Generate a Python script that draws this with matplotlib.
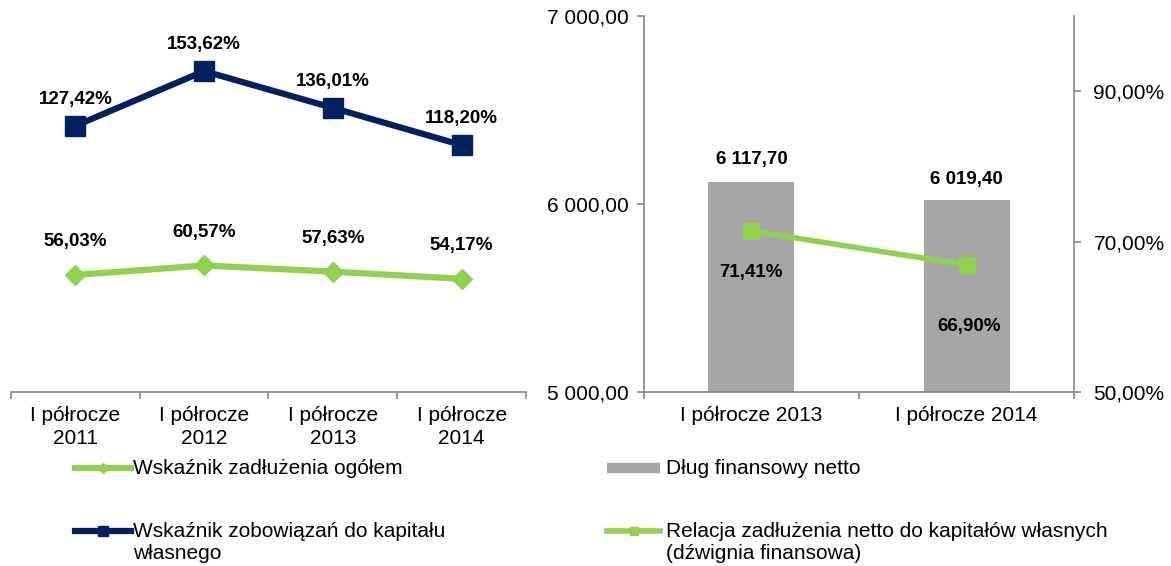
import matplotlib
matplotlib.use('Agg')
import matplotlib.pyplot as plt
from matplotlib.lines import Line2D

plt.rcParams['font.family'] = ['Liberation Sans', 'DejaVu Sans']

# ---------------- data ----------------
left_categories = ['I półrocze\n2011', 'I półrocze\n2012', 'I półrocze\n2013', 'I półrocze\n2014']
zadluzenie_ogolem = [56.03, 60.57, 57.63, 54.17]
zobowiazania_do_kapitalu = [127.42, 153.62, 136.01, 118.20]

right_categories = ['I półrocze 2013', 'I półrocze 2014']
dlug_netto = [6117.70, 6019.40]
dzwignia = [71.41, 66.90]

left_legend_labels = ['Wskaźnik zadłużenia ogółem',
                      'Wskaźnik zobowiązań do kapitału\nwłasnego']
right_legend_labels = ['Dług finansowy netto',
                       'Relacja zadłużenia netto do kapitałów własnych\n(dźwignia finansowa)']

left_yticks = [5000, 6000, 7000]
right_yticks = [50, 70, 90]

# ---------------- style ----------------
NAVY = '#002060'
GREEN = '#92D050'
BARGRAY = '#A6A6A6'
AXGRAY = '#868686'
FS = 15
LFS = 13.5


def pl_num(v, dec=2):
    s = f'{v:,.{dec}f}'
    return s.replace(',', ' ').replace('.', ',')


W, H = 1171, 566
fig = plt.figure(figsize=(W / 100, H / 100), dpi=100)


def px_axes(x0, y0, x1, y1):
    return fig.add_axes([x0 / W, 1 - y1 / H, (x1 - x0) / W, (y1 - y0) / H])


# ---------------- left chart ----------------
ax1 = px_axes(11, 16, 526, 392)
xl = list(range(len(left_categories)))
h_blue, = ax1.plot(xl, zobowiazania_do_kapitalu, color=NAVY, lw=4.5, marker='s', ms=14,
                   solid_joinstyle='miter')
h_green, = ax1.plot(xl, zadluzenie_ogolem, color=GREEN, lw=4.5, marker='D', ms=10.5)
ax1.set_xlim(-0.5, len(left_categories) - 0.5)
ax1.set_ylim(0, 180)
ax1.set_yticks([])
for s in ['left', 'top', 'right']:
    ax1.spines[s].set_visible(False)
ax1.spines['bottom'].set_color(AXGRAY)
ax1.spines['bottom'].set_linewidth(1.2)
ax1.set_xticks([i - 0.5 for i in range(len(left_categories) + 1)])
ax1.set_xticklabels([])
ax1.set_xticks(xl, minor=True)
ax1.set_xticklabels(left_categories, minor=True, fontsize=FS, linespacing=1.25)
ax1.tick_params(axis='x', which='major', length=5, color=AXGRAY, width=1.2, direction='out')
ax1.tick_params(axis='x', which='minor', length=0, pad=10)

for i, v in enumerate(zobowiazania_do_kapitalu):
    ax1.annotate(pl_num(v) + '%', (i, v), xytext=(0, 19), textcoords='offset points',
                 ha='center', va='center', fontsize=LFS, fontweight='bold')
for i, v in enumerate(zadluzenie_ogolem):
    ax1.annotate(pl_num(v) + '%', (i, v), xytext=(0, 24), textcoords='offset points',
                 ha='center', va='center', fontsize=LFS, fontweight='bold')

# ---------------- right chart ----------------
ax2 = px_axes(644, 16, 1074, 392)
xr = list(range(len(right_categories)))
bars = ax2.bar(xr, dlug_netto, width=0.4, color=BARGRAY)
ax2.set_xlim(-0.5, len(right_categories) - 0.5)
ax2.set_ylim(5000, 7000)
ax2.set_yticks(left_yticks)
ax2.set_yticklabels([pl_num(v) for v in left_yticks], fontsize=FS)
ax2.spines['top'].set_visible(False)
ax2.spines['right'].set_visible(False)
for s in ['left', 'bottom']:
    ax2.spines[s].set_color(AXGRAY)
    ax2.spines[s].set_linewidth(1.2)
ax2.set_xticks([i - 0.5 for i in range(len(right_categories) + 1)])
ax2.set_xticklabels([])
ax2.set_xticks(xr, minor=True)
ax2.set_xticklabels(right_categories, minor=True, fontsize=FS)
ax2.tick_params(axis='x', which='major', length=5, color=AXGRAY, width=1.2)
ax2.tick_params(axis='x', which='minor', length=0, pad=10)
ax2.tick_params(axis='y', length=5, color=AXGRAY, width=1.2, pad=6)

bar_label_offsets = [16, 15]
for i, v in enumerate(dlug_netto):
    ax2.annotate(pl_num(v), (i, v), xytext=(0, bar_label_offsets[i]), textcoords='offset points',
                 ha='center', va='center', fontsize=LFS, fontweight='bold')

ax3 = ax2.twinx()
h_line, = ax3.plot(xr, dzwignia, color=GREEN, lw=4, marker='s', ms=12)
ax3.set_ylim(50, 100)
ax3.set_yticks(right_yticks)
ax3.set_yticklabels([pl_num(v) + '%' for v in right_yticks], fontsize=FS)
for s in ['left', 'top', 'bottom']:
    ax3.spines[s].set_visible(False)
ax3.spines['right'].set_color(AXGRAY)
ax3.spines['right'].set_linewidth(1.2)
ax3.tick_params(axis='y', length=5, color=AXGRAY, width=1.2, pad=9)

line_label_offsets = [-30, -44]
for i, v in enumerate(dzwignia):
    ax3.annotate(pl_num(v) + '%', (i, v), xytext=(2 * i, line_label_offsets[i]),
                 textcoords='offset points', ha='center', va='center',
                 fontsize=LFS, fontweight='bold')

# ---------------- legends ----------------
def top_align(leg):
    for col in leg._legend_handle_box.get_children():
        for item in col.get_children():
            item.align = 'top'
    for t in leg.get_texts():
        t.set_linespacing(1.2)


leg1 = fig.legend([h_green, h_blue], left_legend_labels, loc='upper left',
                  bbox_to_anchor=(75 / W, 1 - 459 / H), frameon=False, fontsize=FS,
                  handlelength=2.7, handletextpad=0.1, borderpad=0, borderaxespad=0,
                  labelspacing=2.05, markerscale=0.5, handleheight=1.15)
top_align(leg1)

bar_proxy = Line2D([0], [0], color=BARGRAY, lw=7.5, solid_capstyle='butt')
leg2 = fig.legend([bar_proxy, h_line], right_legend_labels, loc='upper left',
                  bbox_to_anchor=(607 / W, 1 - 459 / H), frameon=False, fontsize=FS,
                  handlelength=2.55, handletextpad=0.3, borderpad=0, borderaxespad=0,
                  labelspacing=2.05, markerscale=0.5, handleheight=1.15)
top_align(leg2)

fig.savefig('out.png', dpi=100)
